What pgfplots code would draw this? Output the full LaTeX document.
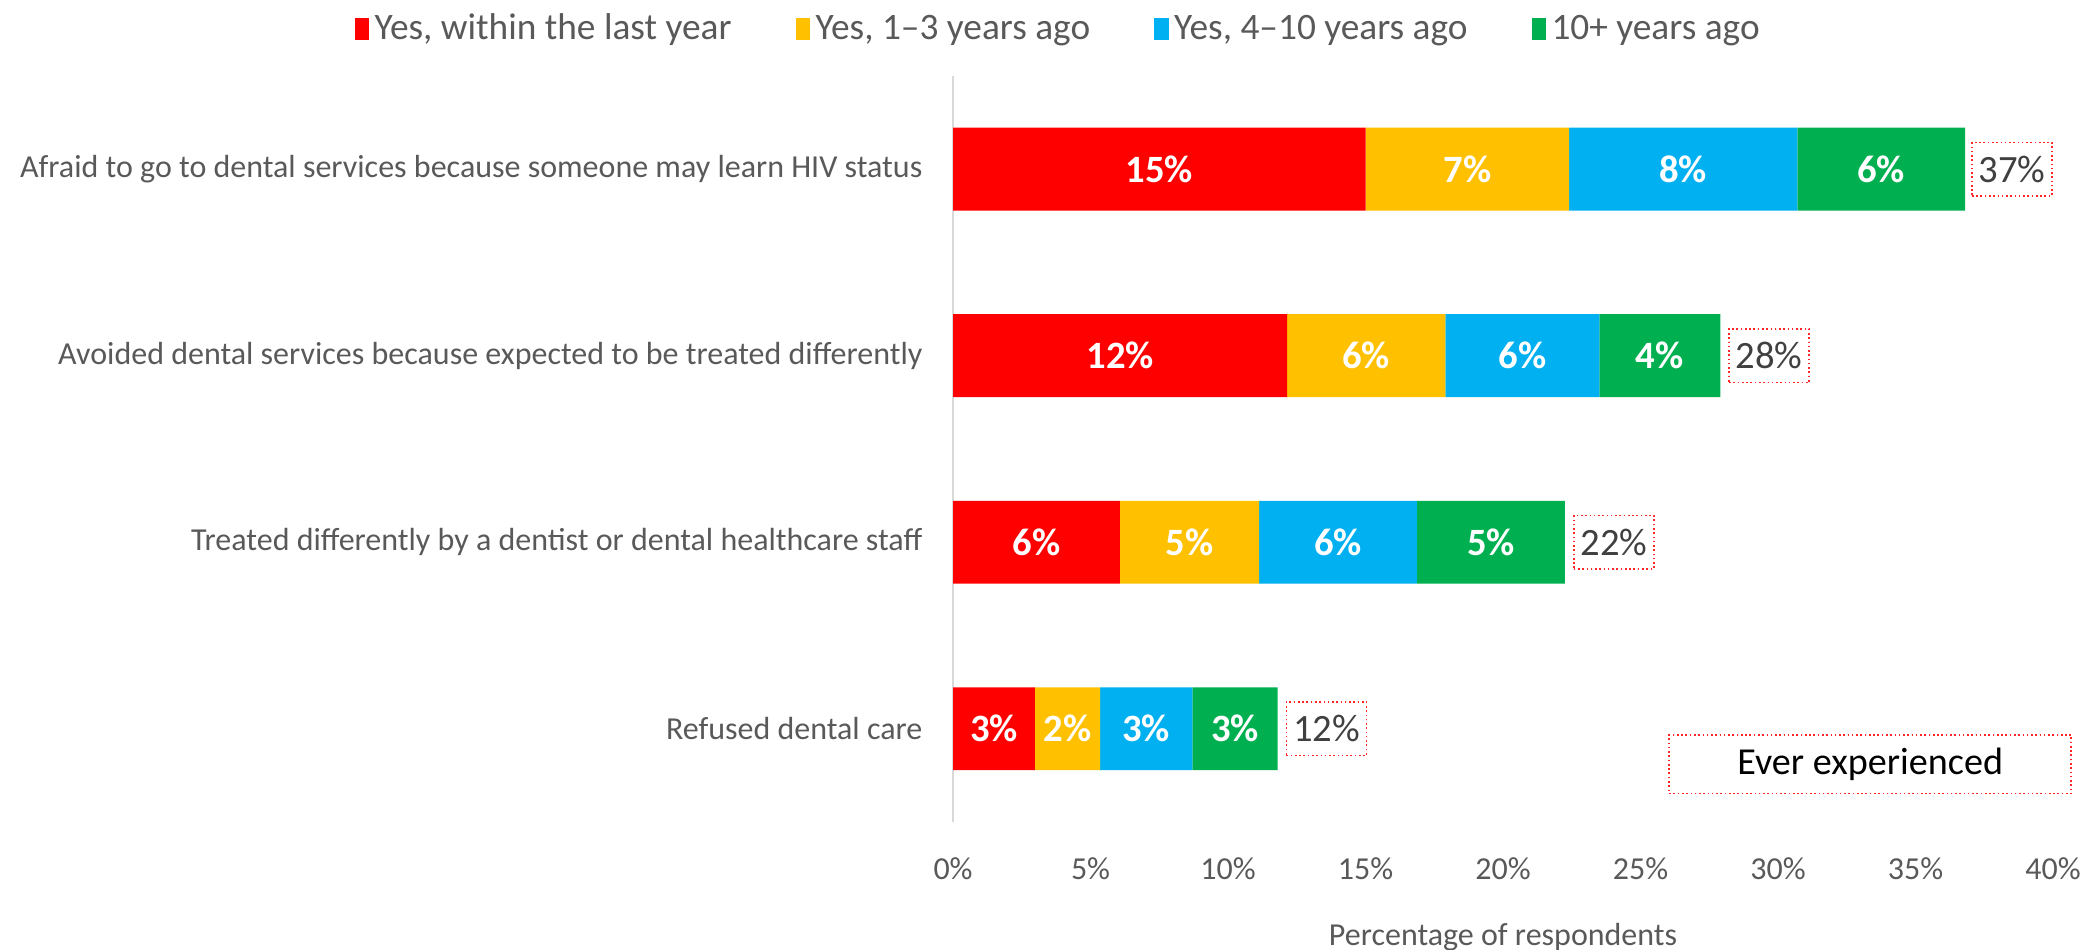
\documentclass[border=0pt]{standalone}
\usepackage{pgfplots}
\pgfplotsset{compat=1.18}
\usepackage{fontspec}
\setmainfont{Carlito}
\definecolor{cRed}{HTML}{FF0000}
\definecolor{cYel}{HTML}{FFC000}
\definecolor{cBlu}{HTML}{00B0F0}
\definecolor{cGrn}{HTML}{00B050}
\definecolor{txtgray}{HTML}{595959}
\definecolor{dkgray}{HTML}{404040}
\definecolor{axgray}{HTML}{D9D9D9}
\pgfplotsset{
  common/.style={
    scale only axis,
    width=412.5pt, height=279.75pt,
    xmin=0, xmax=40,
    ymin=-0.5, ymax=3.5,
    clip=false,
  }
}
\begin{document}
\begin{tikzpicture}
\begin{axis}[
  common,
  name=ax,
  xbar stacked,
  bar width=0.445,
  xtick={0,5,...,40},
  xticklabel={\pgfmathprintnumber{\tick}\%},
  /pgf/number format/assume math mode=true,
  ytick={0,1,2,3},
  yticklabels={Refused dental care,
    Treated differently by a dentist or dental healthcare staff,
    Avoided dental services because expected to be treated differently,
    Afraid to go to dental services because someone may learn HIV status},
  major tick length=0pt,
  axis x line*=bottom,
  x axis line style={draw=none},
  axis y line*=left,
  y axis line style={draw=axgray, line width=0.8pt},
  xticklabel style={font=\fontsize{12}{14}\selectfont, text=txtgray, yshift=-10pt},
  yticklabel style={font=\fontsize{12}{14}\selectfont, text=txtgray, xshift=-8pt},
  xlabel={Percentage of respondents},
  xlabel style={font=\fontsize{12}{14}\selectfont, text=txtgray, at={(axis description cs:0.5,0)}, anchor=center, yshift=-43pt},
  legend style={at={(axis description cs:0.097,1.063)}, anchor=center, draw=none, fill=none,
    legend columns=4, font=\fontsize{14}{16}\selectfont, text=txtgray,
    /tikz/every even column/.append style={column sep=22pt}},
  legend image code/.code={\fill[#1] (0pt,-4pt) rectangle (5.5pt,4pt);},
  point meta=explicit,
  nodes near coords={\pgfmathprintnumber[fixed,precision=0]{\pgfplotspointmeta}\%},
  every node near coord/.append style={anchor=center, text=white, font=\fontsize{14.5}{16}\selectfont\bfseries},
]
\addplot[draw=none, fill=cRed] coordinates {(15.0,3) [15.0] (12.15,2) [12.15] (6.07,1) [6.07] (2.98,0) [2.98]};
\addplot[draw=none, fill=cYel] coordinates {(7.4,3) [7.4] (5.75,2) [5.75] (5.06,1) [5.06] (2.37,0) [2.37]};
\addplot[draw=none, fill=cBlu] coordinates {(8.3,3) [8.3] (5.6,2) [5.6] (5.74,1) [5.74] (3.35,0) [3.35]};
\addplot[draw=none, fill=cGrn] coordinates {(6.1,3) [6.1] (4.4,2) [4.4] (5.38,1) [5.38] (3.1,0) [3.1]};
\legend{Yes{,} within the last year, Yes{,} 1--3 years ago, Yes{,} 4--10 years ago, 10+ years ago}
\node[draw=red!85, densely dotted, line width=0.6pt, minimum width=150.75pt, minimum height=22pt,
  font=\fontsize{14.3}{16}\selectfont, text=black] at (axis cs:33.35,-0.19) {Ever experienced};
\end{axis}
\begin{axis}[
  common,
  hide axis,
  point meta=explicit symbolic,
]
\addplot[only marks, mark=none, nodes near coords={\pgfplotspointmeta},
  every node near coord/.append style={anchor=west, xshift=3pt, draw=red!85, densely dotted, line width=0.6pt,
    text=dkgray, font=\fontsize{14.5}{16}\selectfont, inner sep=2.5pt, minimum height=20pt}]
  coordinates {(36.73,3) [37\%] (27.9,2) [28\%] (22.25,1) [22\%] (11.8,0) [12\%]};
\end{axis}
\pgfresetboundingbox
\useasboundingbox ([xshift=-357.4pt,yshift=-48pt]ax.south west) rectangle ([xshift=10.1pt,yshift=28.5pt]ax.north east);
\end{tikzpicture}
\end{document}
